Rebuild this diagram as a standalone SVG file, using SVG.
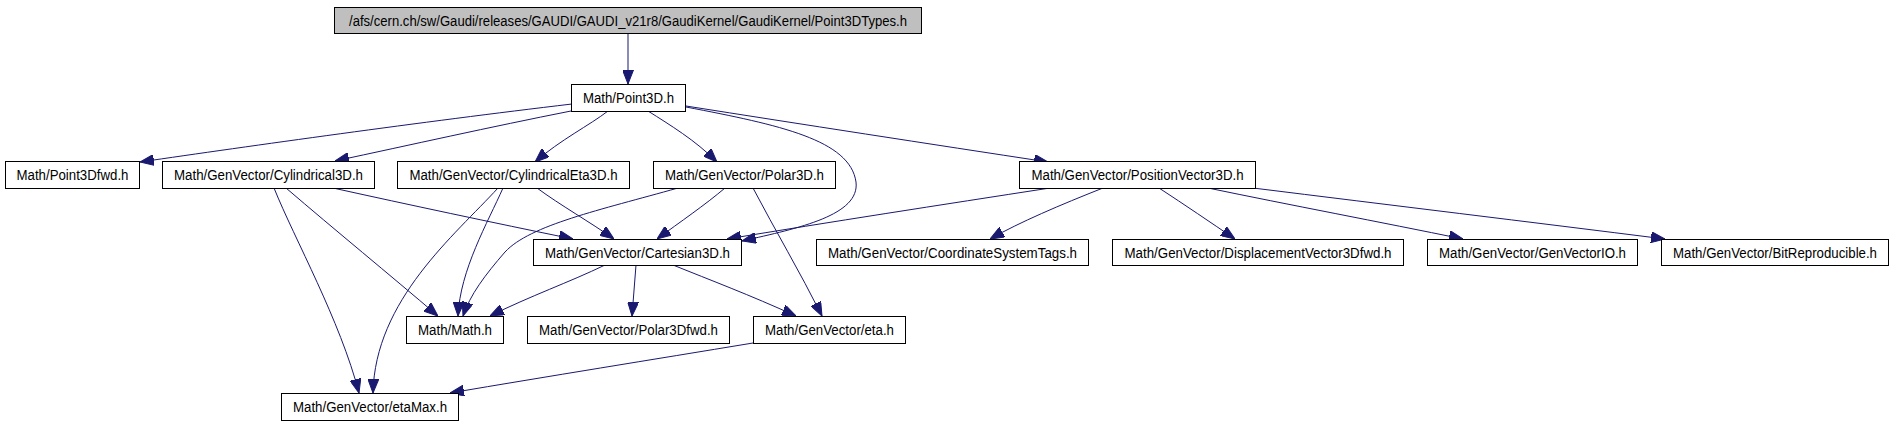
<svg xmlns="http://www.w3.org/2000/svg" width="1893" height="427" viewBox="0 0 1893 427">
<style>
.n rect{fill:#ffffff;stroke:#000000;stroke-width:1}
.root rect{fill:#bfbfbf}
.n text{font-family:"Liberation Sans",Arial,sans-serif;font-size:14px;fill:#000000;text-anchor:middle}
.e path{fill:none;stroke:#191970;stroke-width:1;marker-end:url(#ah)}
</style>
<defs>
<marker id="ah" markerUnits="userSpaceOnUse" markerWidth="14" markerHeight="11" viewBox="0 0 14 11" refX="14" refY="5.5" orient="auto">
<path d="M0,0 L14,5.5 L0,11 z" fill="#191970" stroke="#191970" stroke-width="1"/>
</marker>
</defs>
<rect x="0" y="0" width="1893" height="427" fill="#ffffff"/>
<g id="edges" class="e">
<path d="M628,34 L628,84"/>
<path d="M572,104 C 420,122 250,146 140,162"/>
<path d="M571,111 C 490,127 410,145 335,161"/>
<path d="M608,111 C 590,125 560,140 535,162"/>
<path d="M648,111 C 670,125 695,140 717,162"/>
<path d="M686,107 C 780,125 850,140 856,182 C 860,215 800,228 742,241"/>
<path d="M686,106 C 800,124 930,144 1048,162"/>
<path d="M333,188 C 410,205 490,222 573,239"/>
<path d="M286,188 C 335,230 390,275 438,316"/>
<path d="M274,188 C 295,240 340,320 359,393"/>
<path d="M498,188 C 455,235 375,300 373,393"/>
<path d="M503,188 C 488,222 460,270 458,316"/>
<path d="M537,188 C 560,205 590,222 614,239"/>
<path d="M725,188 C 705,205 680,222 657,239"/>
<path d="M678,188 C 600,210 530,225 505,252 C 485,275 470,295 463,316"/>
<path d="M753,188 C 775,230 800,272 822,316"/>
<path d="M1050,188 C 940,205 830,222 727,239"/>
<path d="M605,265 C 570,282 530,296 490,316"/>
<path d="M636,265 L632,316"/>
<path d="M673,265 C 710,280 750,295 796,316"/>
<path d="M753,343 C 650,360 550,376 450,393"/>
<path d="M1103,188 C 1060,205 1020,222 990,239"/>
<path d="M1159,188 C 1185,205 1210,222 1235,239"/>
<path d="M1208,188 C 1290,205 1380,222 1463,239"/>
<path d="M1253,188 C 1390,205 1530,222 1665,239"/>
</g>
<g id="node-root" class="n root"><rect x="334.5" y="7.5" width="587" height="26"/><text x="628" y="25.5" textLength="558" lengthAdjust="spacingAndGlyphs">/afs/cern.ch/sw/Gaudi/releases/GAUDI/GAUDI_v21r8/GaudiKernel/GaudiKernel/Point3DTypes.h</text></g>
<g id="node-point3d" class="n"><rect x="571.5" y="84.5" width="114" height="27"/><text x="628.5" y="103" textLength="91" lengthAdjust="spacingAndGlyphs">Math/Point3D.h</text></g>
<g id="node-point3dfwd" class="n"><rect x="5.5" y="161.5" width="134" height="27"/><text x="72.5" y="180" textLength="112" lengthAdjust="spacingAndGlyphs">Math/Point3Dfwd.h</text></g>
<g id="node-cylindrical3d" class="n"><rect x="162.5" y="161.5" width="212" height="27"/><text x="268.5" y="180" textLength="189" lengthAdjust="spacingAndGlyphs">Math/GenVector/Cylindrical3D.h</text></g>
<g id="node-cylindricaleta3d" class="n"><rect x="397.5" y="161.5" width="232" height="27"/><text x="513.5" y="180" textLength="208" lengthAdjust="spacingAndGlyphs">Math/GenVector/CylindricalEta3D.h</text></g>
<g id="node-polar3d" class="n"><rect x="653.5" y="161.5" width="182" height="27"/><text x="744.5" y="180" textLength="159" lengthAdjust="spacingAndGlyphs">Math/GenVector/Polar3D.h</text></g>
<g id="node-positionvector3d" class="n"><rect x="1019.5" y="161.5" width="236" height="27"/><text x="1137.5" y="180" textLength="212" lengthAdjust="spacingAndGlyphs">Math/GenVector/PositionVector3D.h</text></g>
<g id="node-cartesian3d" class="n"><rect x="533.5" y="239.5" width="208" height="26"/><text x="637.5" y="257.5" textLength="185" lengthAdjust="spacingAndGlyphs">Math/GenVector/Cartesian3D.h</text></g>
<g id="node-coordinatesystemtags" class="n"><rect x="816.5" y="239.5" width="272" height="26"/><text x="952.5" y="257.5" textLength="249" lengthAdjust="spacingAndGlyphs">Math/GenVector/CoordinateSystemTags.h</text></g>
<g id="node-displacementvector3dfwd" class="n"><rect x="1112.5" y="239.5" width="291" height="26"/><text x="1258" y="257.5" textLength="267" lengthAdjust="spacingAndGlyphs">Math/GenVector/DisplacementVector3Dfwd.h</text></g>
<g id="node-genvectorio" class="n"><rect x="1427.5" y="239.5" width="210" height="26"/><text x="1532.5" y="257.5" textLength="187" lengthAdjust="spacingAndGlyphs">Math/GenVector/GenVectorIO.h</text></g>
<g id="node-bitreproducible" class="n"><rect x="1661.5" y="239.5" width="227" height="26"/><text x="1775" y="257.5" textLength="204" lengthAdjust="spacingAndGlyphs">Math/GenVector/BitReproducible.h</text></g>
<g id="node-math" class="n"><rect x="406.5" y="316.5" width="97" height="27"/><text x="455" y="335" textLength="74" lengthAdjust="spacingAndGlyphs">Math/Math.h</text></g>
<g id="node-polar3dfwd" class="n"><rect x="527.5" y="316.5" width="202" height="27"/><text x="628.5" y="335" textLength="179" lengthAdjust="spacingAndGlyphs">Math/GenVector/Polar3Dfwd.h</text></g>
<g id="node-eta" class="n"><rect x="753.5" y="316.5" width="152" height="27"/><text x="829.5" y="335" textLength="129" lengthAdjust="spacingAndGlyphs">Math/GenVector/eta.h</text></g>
<g id="node-etamax" class="n"><rect x="281.5" y="393.5" width="177" height="27"/><text x="370" y="412" textLength="154" lengthAdjust="spacingAndGlyphs">Math/GenVector/etaMax.h</text></g>
</svg>
